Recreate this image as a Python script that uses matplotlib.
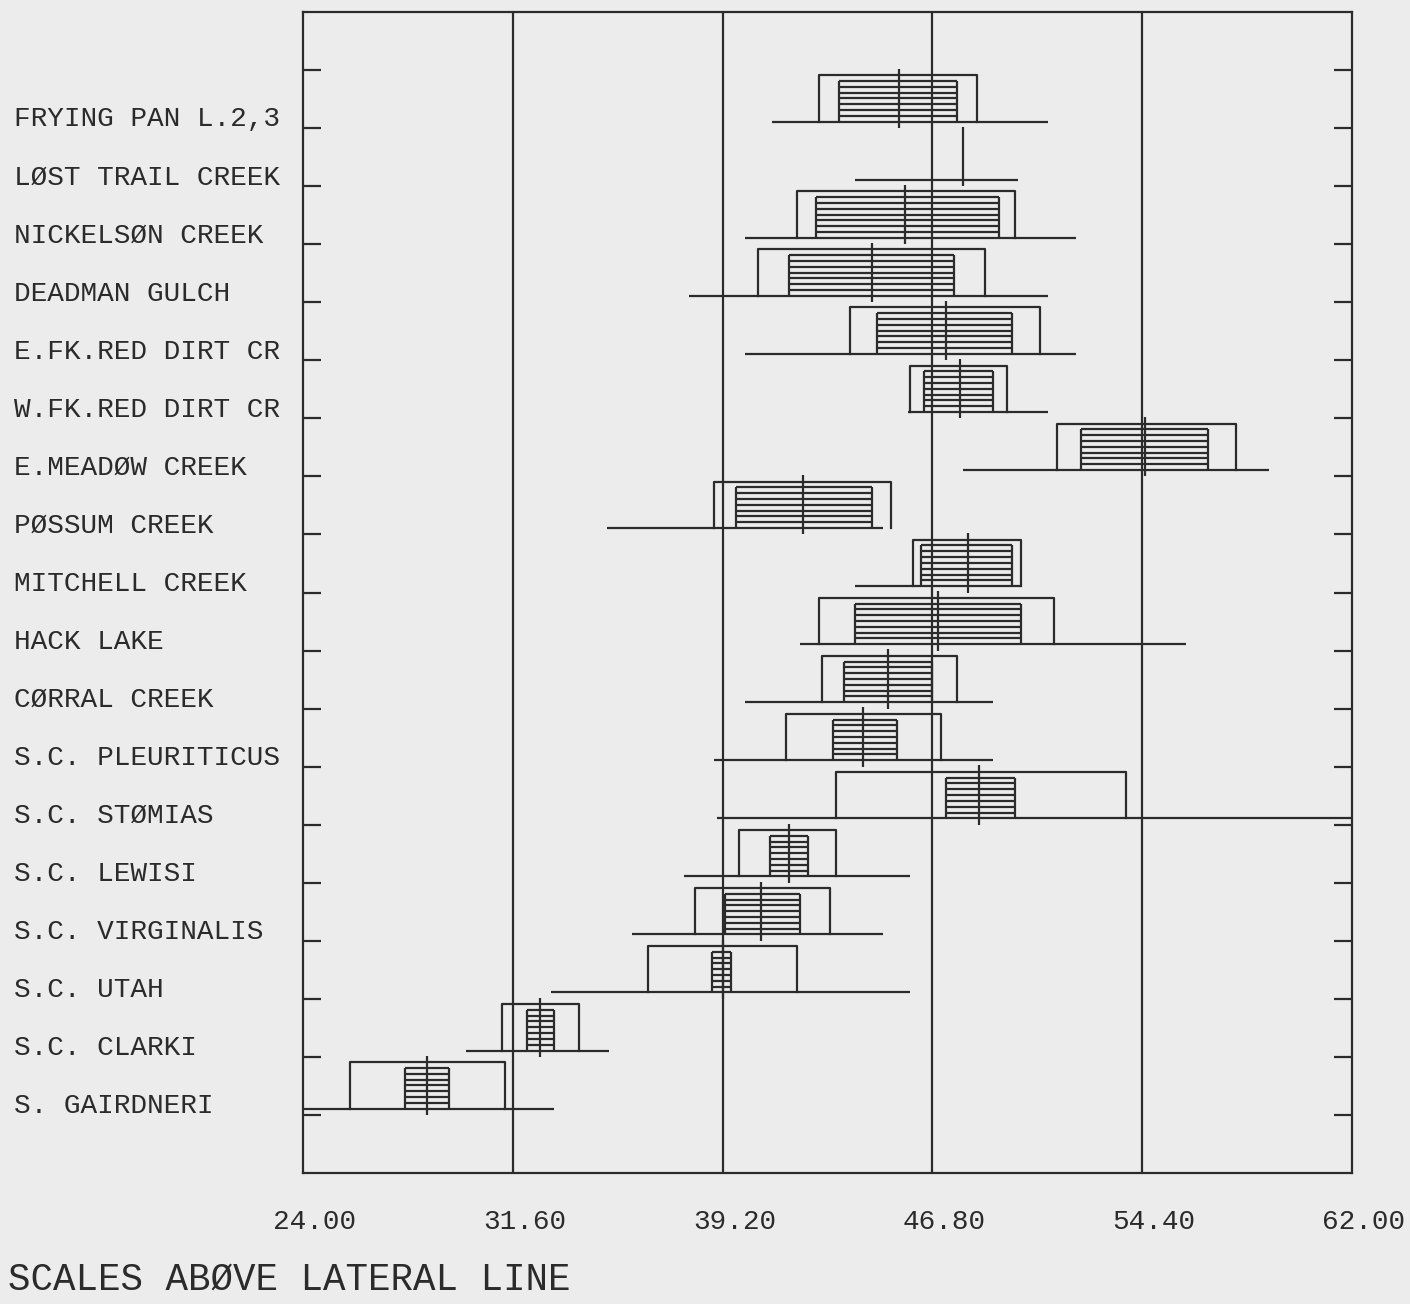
import matplotlib
matplotlib.use("Agg")
import matplotlib.pyplot as plt
import matplotlib.transforms as mtransforms
import numpy as np

plt.rcParams['font.family'] = ['Liberation Mono', 'DejaVu Sans Mono']

labels = ["FRYING PAN L.2,3", "LØST TRAIL CREEK", "NICKELSØN CREEK", "DEADMAN GULCH",
          "E.FK.RED DIRT CR", "W.FK.RED DIRT CR", "E.MEADØW CREEK", "PØSSUM CREEK",
          "MITCHELL CREEK", "HACK LAKE", "CØRRAL CREEK", "S.C. PLEURITICUS",
          "S.C. STØMIAS", "S.C. LEWISI", "S.C. VIRGINALIS", "S.C. UTAH",
          "S.C. CLARKI", "S. GAIRDNERI"]
# min / max of sample
range_lo = [41.0, 44.0, 40.0, 38.0, 40.0, 45.9, 47.9, 35.0, 44.0, 42.0, 40.0, 38.9, 39.0, 37.8, 35.9, 33.0, 29.9, 24.0]
range_hi = [51.0, 49.9, 52.0, 51.0, 52.0, 51.0, 59.0, 45.0, 50.0, 56.0, 49.0, 49.0, 62.0, 46.0, 45.0, 46.0, 35.1, 33.1]
# open box
outer_lo = [42.7, np.nan, 41.9, 40.5, 43.8, 46.0, 51.3, 38.9, 46.1, 42.7, 42.8, 41.5, 43.3, 39.8, 38.2, 36.5, 31.2, 25.7]
outer_hi = [48.4, np.nan, 49.8, 48.7, 50.7, 49.5, 57.8, 45.3, 50.0, 51.2, 47.7, 47.1, 53.8, 43.3, 43.1, 41.9, 34.0, 31.3]
# hatched box
hatch_lo = [43.4, np.nan, 42.6, 41.6, 44.8, 46.5, 52.2, 39.7, 46.4, 44.0, 43.6, 43.2, 47.3, 40.9, 39.3, 38.8, 32.1, 27.7]
hatch_hi = [47.7, np.nan, 49.2, 47.6, 49.7, 49.0, 56.8, 44.6, 49.7, 50.0, 46.8, 45.5, 49.8, 42.3, 42.0, 39.5, 33.1, 29.3]
means = [45.6, 47.9, 45.8, 44.6, 47.3, 47.8, 54.5, 42.1, 48.1, 47.0, 45.2, 44.3, 48.5, 41.6, 40.6, 39.2, 32.6, 28.5]

xticks = [24.0, 31.6, 39.2, 46.8, 54.4, 62.0]

ink = '#2b2b2b'
paper = '#ececec'
lw = 1.6

fig = plt.figure(figsize=(14.1, 13.04), dpi=100, facecolor=paper)
ax = fig.add_axes([303/1410, 131/1304, 1049/1410, 1161/1304], facecolor=paper)
lab_tr = mtransforms.blended_transform_factory(fig.transFigure, ax.transData)

n = len(labels)
for i in range(n):
    base = i + 1.89
    top = base - 0.8
    ax.hlines(base, range_lo[i], range_hi[i], color=ink, lw=lw)
    if not np.isnan(outer_lo[i]):
        ax.plot([outer_lo[i], outer_lo[i], outer_hi[i], outer_hi[i]],
                [base, top, top, base], color=ink, lw=lw)
        hy = base - 0.1 * np.arange(1, 8)
        ax.hlines(hy, hatch_lo[i], hatch_hi[i], color=ink, lw=lw)
        ax.vlines([hatch_lo[i], hatch_hi[i]], base, base - 0.7, color=ink, lw=lw)
    ax.vlines(means[i], base + 0.11, top - 0.11, color=ink, lw=lw)
    ax.text(14/1410, base + 0.08, labels[i], transform=lab_tr,
            ha='left', va='baseline', fontsize=20, color=ink)

for x in xticks[1:-1]:
    ax.axvline(x, color=ink, lw=lw)

ax.set_xlim(24, 62)
ax.set_ylim(20, 0)
ax.set_yticks(np.arange(1, 20))
ax.set_yticklabels([])
ax.tick_params(axis='y', direction='in', length=13, width=lw, color=ink, left=True, right=True)
ax.set_xticks(xticks)
ax.set_xticklabels(["%.2f" % v for v in xticks], fontsize=20, color=ink)
ax.tick_params(axis='x', length=0, pad=26)
off = mtransforms.ScaledTranslation(12/100, 0, fig.dpi_scale_trans)
for t in ax.get_xticklabels():
    t.set_transform(t.get_transform() + off)
for s in ax.spines.values():
    s.set_color(ink)
    s.set_linewidth(lw)

fig.text(8/1410, 1 - 1280/1304, "SCALES ABØVE LATERAL LINE", ha='left', va='center', fontsize=27, color=ink)

fig.savefig("out.png", dpi=100, facecolor=paper)
